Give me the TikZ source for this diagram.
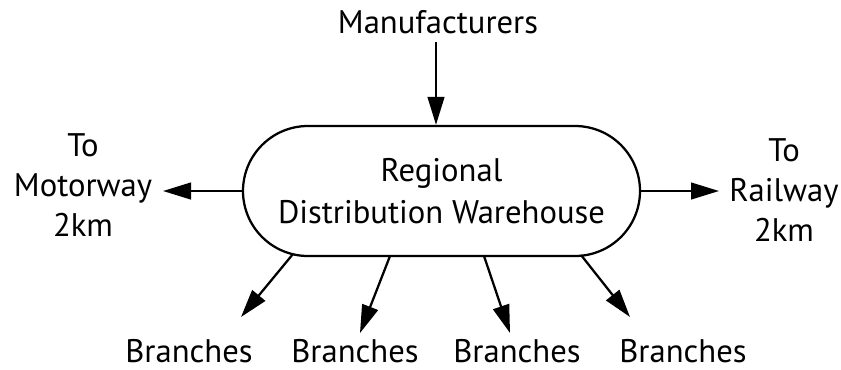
\documentclass[tikz,border=0pt]{standalone}
\usepackage{fontspec}
\setmainfont{PT Sans}
\usetikzlibrary{arrows.meta}
\begin{document}
\begin{tikzpicture}[x=0.75pt,y=-0.75pt,
  lbl/.style={font=\fontsize{24.5}{30}\selectfont, align=center, inner sep=0pt},
  arr/.style={line width=1.7pt, -{Triangle[length=21pt,width=12.5pt]}},
  capsule/.style={draw, line width=1.7pt, rounded corners=48.75pt, minimum width=297.75pt, minimum height=97.5pt, inner sep=0pt}]
\useasboundingbox (0,0) rectangle (841,369);
\node[capsule, lbl, font=\fontsize{24.5}{31}\selectfont] (cap) at (441.5,191) {Regional\\Distribution Warehouse};
\node[lbl, anchor=base] (man) at (438,33) {Manufacturers};
\node[lbl] (mot) at (83,185) {To\\Motorway\\2km};
\node[lbl] (rail) at (784,190) {To\\Railway\\2km};
\node[lbl, anchor=base] (b1) at (189,362) {Branches};
\node[lbl, anchor=base] (b2) at (355,362) {Branches};
\node[lbl, anchor=base] (b3) at (517,362) {Branches};
\node[lbl, anchor=base] (b4) at (683,362) {Branches};
\coordinate (mtop) at (436,42);
\coordinate (lt) at (163,191);
\coordinate (rt) at (719,191);
\coordinate (s1) at (293,254);
\coordinate (s2) at (390,256);
\coordinate (s3) at (484,256);
\coordinate (s4) at (581,255);
\coordinate (t1) at (241,317);
\coordinate (t2) at (360,333);
\coordinate (t3) at (510,333);
\coordinate (t4) at (630,317);
\draw[arr] (mtop) -- (cap.north -| mtop);
\draw[arr] (cap.west) -- (lt);
\draw[arr] (cap.east) -- (rt);
\draw[arr] (s1) -- (t1);
\draw[arr] (s2) -- (t2);
\draw[arr] (s3) -- (t3);
\draw[arr] (s4) -- (t4);
\end{tikzpicture}
\end{document}
